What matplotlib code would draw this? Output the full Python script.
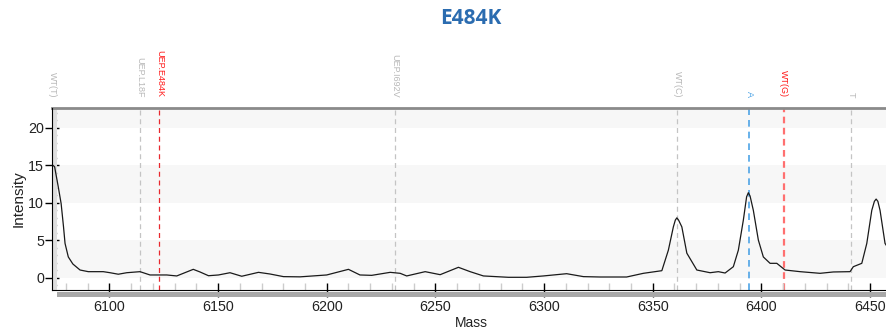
import matplotlib
matplotlib.use('Agg')
import matplotlib.pyplot as plt
from matplotlib.patches import Rectangle
from matplotlib.ticker import MultipleLocator

plt.rcParams['font.family'] = ['Liberation Sans', 'DejaVu Sans']

# 质谱曲线 (Mass, Intensity)
mass = [6073.6, 6074.8, 6076.5, 6077.8, 6078.9, 6079.6, 6081.1, 6083.2, 6086.5, 6090.3,
        6097.2, 6100.3, 6104.1, 6108.0, 6114.1, 6118.7, 6126.4, 6131.0, 6138.6, 6141.7,
        6145.6, 6150.2, 6155.5, 6160.9, 6168.6, 6173.9, 6180.1, 6187.7, 6200.0, 6210.0,
        6215.3, 6220.7, 6229.2, 6233.8, 6236.8, 6245.3, 6252.2, 6260.6, 6266.0, 6272.1,
        6283.6, 6292.0, 6299.7, 6310.4, 6318.1, 6325.8, 6338.0, 6345.7, 6354.2, 6357.2,
        6359.5, 6360.4, 6361.1, 6361.9, 6363.4, 6365.7, 6370.3, 6376.4, 6380.2, 6383.3,
        6387.1, 6389.4, 6391.7, 6393.2, 6394.0, 6394.8, 6396.3, 6398.6, 6400.9, 6404.0,
        6407.1, 6410.9, 6417.8, 6427.0, 6433.1, 6440.8, 6442.3, 6446.2, 6448.5, 6450.8,
        6452.0, 6452.8, 6453.6, 6454.6, 6456.9, 6457.8]
intensity = [15.1, 14.8, 12.1, 9.9, 6.8, 4.6, 2.8, 1.86, 1.06, 0.84,
             0.84, 0.7, 0.5, 0.7, 0.84, 0.4, 0.4, 0.27, 1.15, 0.8,
             0.3, 0.4, 0.7, 0.23, 0.75, 0.53, 0.18, 0.15, 0.4, 1.15,
             0.4, 0.35, 0.75, 0.62, 0.27, 0.84, 0.44, 1.42, 0.84, 0.27,
             0.09, 0.09, 0.27, 0.57, 0.18, 0.13, 0.13, 0.62, 0.97, 3.7,
             6.8, 7.7, 8.0, 7.7, 6.8, 3.3, 1.06, 0.7, 0.84, 0.66,
             1.5, 3.7, 7.7, 10.8, 11.35, 10.9, 9.0, 5.05, 2.8, 1.95,
             1.95, 1.06, 0.84, 0.62, 0.8, 0.84, 1.5, 1.95, 4.6, 9.0,
             10.2, 10.5, 10.2, 9.0, 4.6, 4.2]

# 标记位置
marker_names = ['WT(T)', 'UEP.L18F', 'UEP.E484K', 'UEP.I692V', 'WT(C)', 'A', 'WT(G)', 'T']
marker_mass = [6073.8, 6114.1, 6123.0, 6231.3, 6361.3, 6394.3, 6410.3, 6441.3]
marker_color = ['#c4c4c4', '#c4c4c4', '#e8282e', '#c4c4c4', '#c4c4c4', '#4ea4e6', '#ff7070', '#c4c4c4']
label_color = ['#b8b8b8', '#b8b8b8', '#ff1a1a', '#b8b8b8', '#b8b8b8', '#4ea4e6', '#ff1a1a', '#b8b8b8']
marker_lw = [0.9, 0.9, 0.9, 0.9, 0.9, 1.2, 1.6, 0.9]

fig = plt.figure(figsize=(8.87, 3.33), dpi=100)
ax = fig.add_axes([52 / 887, 42.7 / 333, 835 / 887, 182.6 / 333])
ax.set_xlim(6073.6, 6457.8)
ax.set_ylim(-1.64, 22.66)

# 背景条纹
for lo in [0, 10, 20]:
    ax.axhspan(lo, lo + 5, color='#f7f7f7', zorder=0, lw=0)

for name, m, c, lc, lw in zip(marker_names, marker_mass, marker_color, label_color, marker_lw):
    ax.axvline(m, color=c, lw=lw, linestyle=(0, (4, 3)) if lw < 1.5 else (0, (3, 2)), zorder=1)
    ax.text(m, 1.056, name, transform=ax.get_xaxis_transform(), rotation=-90,
            ha='center', va='bottom', fontsize=6.5, color=lc, clip_on=False)

ax.plot(mass, intensity, color='#1a1a1a', lw=0.9, zorder=3)

# 坐标轴样式
ax.spines['right'].set_visible(False)
ax.spines['top'].set_color('#8a8a8a')
ax.spines['top'].set_linewidth(2)
ax.spines['left'].set_color('black')
ax.spines['bottom'].set_color('black')
ax.spines['left'].set_zorder(5)
ax.add_patch(Rectangle((0, 0), 5 / 835, 1, transform=ax.transAxes,
                       color='#dedede', lw=0, zorder=2))
ax.add_patch(Rectangle((5 / 835, -6.2 / 182.6), 1, 5 / 182.6, transform=ax.transAxes,
                       color='#a8a8a8', lw=0, clip_on=False, zorder=2))

ax.xaxis.set_major_locator(MultipleLocator(50))
ax.xaxis.set_minor_locator(MultipleLocator(10))
ax.yaxis.set_major_locator(MultipleLocator(5))
ax.yaxis.set_minor_locator(MultipleLocator(1))
ax.tick_params(axis='both', which='major', direction='inout', length=9.5, width=1,
               color='black', labelsize=10.3, labelcolor='#222222')
ax.tick_params(axis='x', which='major', pad=2)
ax.tick_params(axis='y', which='major', pad=1)
ax.tick_params(axis='x', which='minor', direction='in', length=5, width=1, color='#cccccc')
ax.tick_params(axis='y', which='minor', direction='in', length=3.6, width=1, color='#b5b5b5')

fig.text(18.3 / 887, 1 - 199 / 333, 'Intensity', rotation=90, ha='center', va='center',
         fontsize=11, color='#222222')
fig.text(471.7 / 887, 1 - 323 / 333, 'Mass', ha='center', va='center',
         fontsize=10, color='#222222')
fig.text(471 / 887, 1 - 19 / 333, 'E484K', ha='center', va='center', fontsize=15,
         fontweight='bold', color='#2b6cb0', family=['Open Sans', 'DejaVu Sans'])

plt.savefig('out.png', dpi=100)
